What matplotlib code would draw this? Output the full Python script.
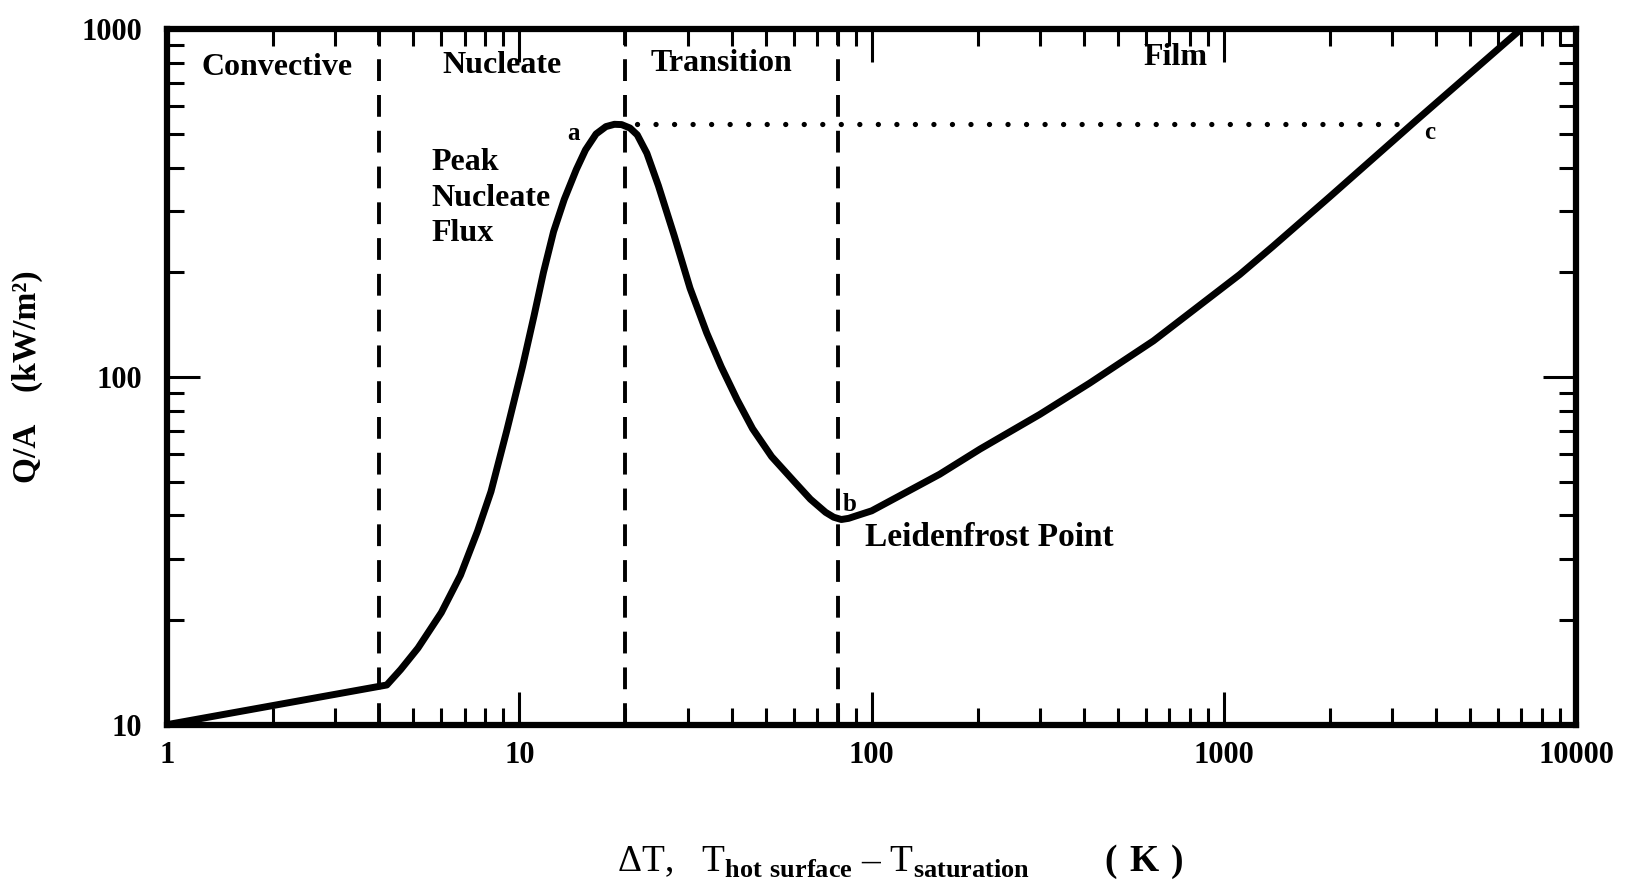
import matplotlib
matplotlib.use("Agg")
import matplotlib.pyplot as plt
from matplotlib.ticker import LogLocator, NullFormatter, FixedFormatter, FixedLocator

plt.rcParams["font.family"] = ["Liberation Serif", "DejaVu Serif"]
plt.rcParams["mathtext.fontset"] = "custom"
plt.rcParams["mathtext.rm"] = "Liberation Serif"
plt.rcParams["mathtext.bf"] = "Liberation Serif:bold"

# boiling curve, dT (K) vs heat flux Q/A (kW/m^2)
delta_t = [1.0, 4.2, 4.6, 5.15, 6.0, 6.8, 7.6, 8.3, 9.2, 10.2, 11.0, 11.7,
           12.5, 13.4, 14.5, 15.4, 16.5, 17.6, 18.6, 19.5, 20.6, 21.6, 23.0,
           24.8, 27.5, 30.5, 34.0, 37.4, 41.5, 45.9, 52.0, 60.3, 67.0, 74.0,
           78.0, 82.0, 86.0, 90.0, 100.0, 120.0, 156.0, 203.0, 300.0, 416.0,
           631.0, 1109.0, 1375.0, 2000.0, 3525.0, 7046.0]
heat_flux = [10.0, 13.0, 14.4, 16.6, 21.0, 26.9, 36.0, 46.8, 70.0, 107.0,
             150.0, 200.0, 262.0, 324.0, 395.0, 450.0, 500.0, 525.0, 533.0,
             532.0, 520.0, 497.0, 440.0, 355.0, 255.0, 180.0, 134.0, 107.0,
             86.0, 71.0, 59.0, 50.0, 44.5, 40.8, 39.5, 38.9, 39.2, 39.8, 41.2,
             45.5, 52.5, 62.0, 78.0, 96.0, 127.0, 197.0, 237.0, 330.0, 548.0,
             1010.0]

regime_bounds = [4.0, 20.0, 80.0]
regime_names = ["Convective", "Nucleate", "Transition", "Film"]
regime_label_x = [2.05, 8.9, 37.4, 730.0]
regime_label_y = [775.0, 785.0, 795.0, 830.0]

peak_flux = 535.0
peak_dt = 21.6
point_c_dt = 3400.0

x_ticks = [1, 10, 100, 1000, 10000]
x_tick_labels = ["1", "10", "100", "1000", "10000"]
y_ticks = [10, 100, 1000]
y_tick_labels = ["10", "100", "1000"]

fig = plt.figure(figsize=(16.4, 8.88), dpi=100)
ax = fig.add_axes([0.102, 0.184, 0.859, 0.783])
ax.set_xscale("log")
ax.set_yscale("log")
ax.set_xlim(1, 10000)
ax.set_ylim(10, 1000)

# regime boundaries
for xb in regime_bounds:
    ax.plot([xb, xb], [10, 1000], color="black", lw=2.8,
            linestyle=(0, (5.6, 3.6)), zorder=2)

# peak flux level carried over to the film branch (a -> c)
ax.plot([peak_dt, point_c_dt], [peak_flux, peak_flux], color="black", lw=3.8,
        linestyle=(0, (0.01, 3.5)), dash_capstyle="round", zorder=2)

ax.plot(delta_t, heat_flux, color="black", lw=5, solid_joinstyle="round",
        solid_capstyle="round", zorder=3)

for name, xl, yl in zip(regime_names, regime_label_x, regime_label_y):
    ax.text(xl, yl, name, fontsize=23, fontweight="bold", ha="center",
            va="center")

ax.text(14.2, 500, "a", fontsize=18, fontweight="bold", ha="center", va="center")
ax.text(5.63, 455, "Peak\nNucleate\nFlux", fontsize=23, fontweight="bold",
        ha="left", va="top", linespacing=1.3)
ax.text(86.6, 43, "b", fontsize=18, fontweight="bold", ha="center", va="center")
ax.text(96, 34.5, "Leidenfrost Point", fontsize=24, fontweight="bold",
        ha="left", va="center")
ax.text(3850, 505, "c", fontsize=18, fontweight="bold", ha="center", va="center")

for side in ax.spines.values():
    side.set_linewidth(4.5)

ax.xaxis.set_major_locator(FixedLocator(x_ticks))
ax.xaxis.set_major_formatter(FixedFormatter(x_tick_labels))
ax.yaxis.set_major_locator(FixedLocator(y_ticks))
ax.yaxis.set_major_formatter(FixedFormatter(y_tick_labels))
ax.xaxis.set_minor_locator(LogLocator(base=10, subs=range(2, 10)))
ax.yaxis.set_minor_locator(LogLocator(base=10, subs=range(2, 10)))
ax.xaxis.set_minor_formatter(NullFormatter())
ax.yaxis.set_minor_formatter(NullFormatter())
ax.tick_params(which="both", direction="in", top=True, right=True,
               colors="black")
ax.tick_params(which="major", length=24, width=2.2)
ax.tick_params(which="minor", length=12, width=2.2)
ax.tick_params(axis="x", which="major", pad=12)
ax.tick_params(axis="y", which="major", pad=18)
for lab in ax.get_xticklabels() + ax.get_yticklabels():
    lab.set_fontsize(22)
    lab.set_fontweight("bold")

ax.set_ylabel("Q/A    (kW/m²)", fontsize=24, fontweight="bold")
ax.yaxis.set_label_coords(-0.088, 0.5)
ax.set_xlabel(r"$\Delta$T,   T$_{\mathbf{hot\ surface}}$ – T$_{\mathbf{saturation}}$"
              r"        $\mathbf{(\ K\ )}$", fontsize=27)
ax.xaxis.set_label_coords(0.52, -0.17)

fig.savefig("out.png", dpi=100, facecolor="white")
